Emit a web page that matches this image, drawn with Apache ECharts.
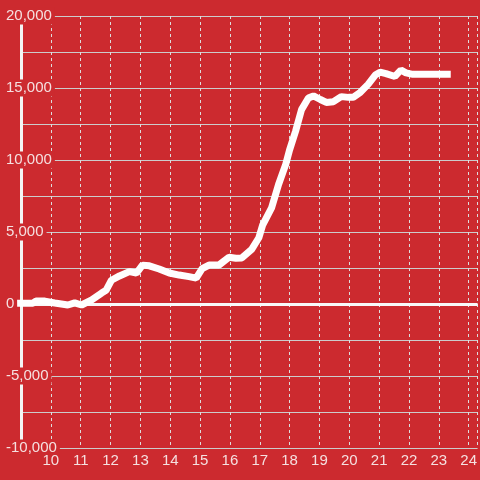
<!DOCTYPE html>
<html>
<head>
<meta charset="utf-8">
<script src="https://cdn.jsdelivr.net/npm/echarts@6/dist/echarts.min.js"></script>
<style>
html,body{margin:0;padding:0;background:#cc2a2f;}
#chart{width:480px;height:480px;}
</style>
</head>
<body>
<div id="chart"></div>
<script>
var xValues = [8.87, 9.4, 9.5, 9.8, 10.13, 10.57, 10.8, 11.03, 11.37, 11.7, 11.85, 12.03, 12.3, 12.63, 12.87, 13.07, 13.3, 13.63, 13.97, 14.3, 14.63, 14.87, 15.07, 15.3, 15.63, 15.97, 16.2, 16.4, 16.73, 16.97, 17.1, 17.4, 17.63, 17.87, 18.0, 18.2, 18.4, 18.63, 18.8, 19.03, 19.23, 19.47, 19.73, 19.97, 20.13, 20.37, 20.63, 20.87, 21.03, 21.23, 21.53, 21.73, 21.9, 22.13, 23.4];
var yValues = [50, 60, 210, 200, 70, -70, 80, -70, 280, 760, 950, 1650, 1950, 2250, 2150, 2700, 2650, 2430, 2150, 2010, 1900, 1800, 2450, 2700, 2700, 3250, 3180, 3200, 3800, 4600, 5500, 6700, 8300, 9700, 10700, 12000, 13500, 14300, 14450, 14200, 14000, 14050, 14400, 14350, 14350, 14700, 15250, 15900, 16100, 16000, 15800, 16250, 16050, 15950, 15950];
var xTicks = [10, 11, 12, 13, 14, 15, 16, 17, 18, 19, 20, 21, 22, 23, 24];
var yTicks = [-10000, -5000, 0, 5000, 10000, 15000, 20000];

var bg = '#cc2a2f';
var textColor = '#f5e0e0';
var data = xValues.map(function (x, i) { return [x, yValues[i]]; });

var chart = echarts.init(document.getElementById('chart'), null, {renderer: 'canvas'});
chart.setOption({
  backgroundColor: bg,
  animation: false,
  grid: {left: 21, right: 0, top: 16, bottom: 32, containLabel: false},
  xAxis: {
    type: 'value', min: 9, max: 24.3, interval: 1,
    axisLine: {show: false}, axisTick: {show: false},
    axisLabel: {
      color: textColor, fontSize: 15, fontFamily: 'Liberation Sans, Arial, sans-serif', margin: 5,
      showMaxLabel: false, showMinLabel: false,
      formatter: function (v) { return xTicks.indexOf(v) >= 0 ? String(v) : ''; }
    },
    splitLine: {show: true, lineStyle: {color: '#dddddd', width: 1, type: [3, 3]}}
  },
  yAxis: {
    type: 'value', min: -10000, max: 20000, interval: 5000,
    axisLine: {show: true, onZero: false, lineStyle: {color: '#f4f4f4', width: 3}},
    axisTick: {show: false},
    axisLabel: {
      color: textColor, fontSize: 15, fontFamily: 'Liberation Sans, Arial, sans-serif',
      align: 'left', margin: 15, backgroundColor: bg, padding: [1, 3, 1, 0],
      formatter: function (v) { return yTicks.indexOf(v) >= 0 ? v.toLocaleString('en-US') : ''; }
    },
    splitLine: {show: true, lineStyle: {color: '#cccccc', width: 1}},
    minorTick: {show: false, splitNumber: 2},
    minorSplitLine: {show: true, lineStyle: {color: '#cccccc', width: 1}}
  },
  series: [{
    type: 'line', data: data, showSymbol: false, symbol: 'none', clip: false,
    lineStyle: {color: '#fefefe', width: 7},
    z: 5,
    markLine: {
      silent: true, symbol: 'none', label: {show: false},
      lineStyle: {color: '#f8f8f8', width: 3, type: 'solid'},
      data: [{yAxis: 0}],
      z: 3
    }
  }]
});
</script>
</body>
</html>
